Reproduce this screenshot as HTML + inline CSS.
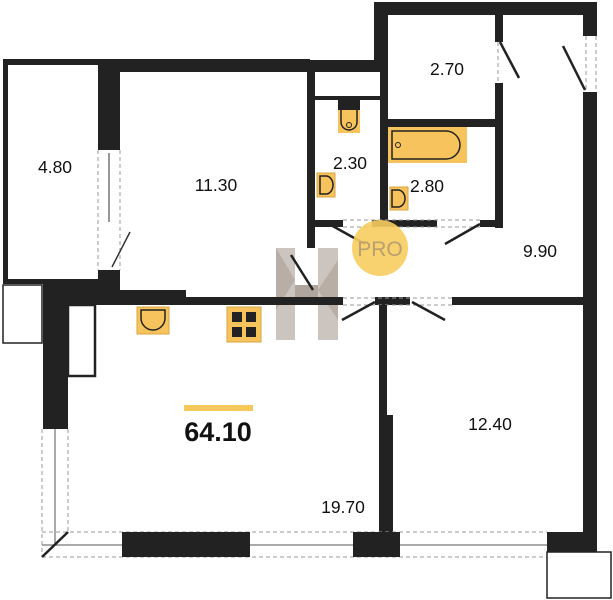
<!DOCTYPE html>
<html><head><meta charset="utf-8"><style>
html,body{margin:0;padding:0;background:#fff;}
svg{display:block;font-family:"Liberation Sans",sans-serif;}
.w{fill:#222;}
.d{stroke:#999;stroke-width:1;stroke-dasharray:4 3;fill:none;}
.l{stroke:#222;stroke-width:2.5;}
.t{font-size:17.5px;fill:#111;}
.y{fill:#f7c35c;stroke:#d9a540;stroke-width:1;}
</style></head><body>
<svg width="613" height="600" viewBox="0 0 613 600">
<!-- watermark -->
<polygon points="276,248 295,248 295,340 276,340" fill="#ccc5bf"/>
<polygon points="318,248 338,248 338,340 318,340" fill="#ccc5bf"/>
<polygon points="295,285 318,285 318,305 295,305" fill="#b0a69d"/>
<polygon points="276,248 295,280 276,310" fill="#b9aea5"/>
<polygon points="338,260 318,290 338,320" fill="#b9aea5"/>

<!-- top-left block -->
<rect class="w" x="3" y="59" width="307" height="6"/>
<rect class="w" x="98" y="59" width="212" height="13"/>
<rect class="w" x="3" y="59" width="5" height="225"/>
<rect class="w" x="98" y="59" width="22" height="91"/>
<rect class="w" x="98" y="270" width="22" height="22"/>
<rect class="w" x="3" y="279" width="95" height="5"/>
<rect class="w" x="43" y="284" width="77" height="8"/>
<rect x="3" y="285" width="39" height="58" fill="none" stroke="#222" stroke-width="1.5"/>
<line class="d" x1="98" y1="150" x2="98" y2="270"/><line class="d" x1="120" y1="150" x2="120" y2="270"/>
<line x1="109" y1="153" x2="109" y2="222" stroke="#333" stroke-width="1"/>
<line x1="112" y1="267" x2="130" y2="232" stroke="#333" stroke-width="1.5"/>
<!-- 11.30 right wall -->
<rect class="w" x="307" y="60" width="8" height="188"/>
<rect class="w" x="300" y="60" width="88" height="12"/>
<rect class="w" x="374" y="2" width="14" height="70"/>
<rect class="w" x="380" y="60" width="8" height="160"/>
<rect class="w" x="374" y="2" width="223" height="13"/>
<rect class="w" x="583" y="2" width="14" height="34"/>
<rect class="w" x="583" y="92" width="14" height="460"/>
<line class="d" x1="586" y1="36" x2="586" y2="92"/><line class="d" x1="596" y1="36" x2="596" y2="92"/>
<line class="l" x1="563" y1="46" x2="585" y2="90"/>
<!-- 2.70 -->
<rect class="w" x="495" y="15" width="8" height="27"/>
<rect class="w" x="495" y="83" width="8" height="145"/>
<rect class="w" x="387" y="119" width="116" height="8"/>
<line class="l" x1="500" y1="42" x2="519" y2="78"/>
<line class="d" x1="498" y1="42" x2="498" y2="83"/>
<!-- 2.30 -->
<rect class="w" x="315" y="96" width="65" height="4"/>
<rect class="w" x="315" y="220" width="28" height="7"/>
<rect class="w" x="372" y="220" width="65" height="7"/>
<rect class="w" x="480" y="220" width="23" height="7"/>
<line class="d" x1="343" y1="220" x2="480" y2="220"/><line class="d" x1="343" y1="227" x2="480" y2="227"/>
<line class="l" x1="329" y1="224" x2="365" y2="244"/>
<line class="l" x1="480" y1="224" x2="445" y2="244"/>
<!-- toilet -->
<rect x="338" y="100" width="22" height="33" fill="#f7c35c"/>
<rect class="w" x="338" y="100" width="22" height="10"/>
<path d="M341,110 v12 a8,8 0 0 0 16,0 v-12" fill="none" stroke="#222" stroke-width="1.5"/>
<circle cx="349" cy="125" r="2.5" fill="none" stroke="#222"/>
<!-- sinks -->
<rect class="y" x="317" y="173" width="18" height="24"/>
<path d="M320,176 h6 a7,9 0 0 1 0,18 h-6 z" fill="none" stroke="#222" stroke-width="1.5"/>
<rect class="y" x="390" y="187" width="18" height="23"/>
<path d="M392,190 h6 a7,8.5 0 0 1 0,17 h-6 z" fill="none" stroke="#222" stroke-width="1.5"/>
<!-- bath -->
<rect x="388" y="127" width="79" height="36" fill="#f7c35c"/>
<path d="M392,131 h54 a14,14 0 0 1 0,28 h-54 z" fill="none" stroke="#222" stroke-width="1.5"/>
<circle cx="398" cy="145" r="2.5" fill="none" stroke="#222"/>
<!-- PRO -->
<circle cx="380" cy="248" r="28" fill="#f7cd5f" opacity="0.9"/>
<text x="380" y="256" text-anchor="middle" font-size="21" fill="#b8a070">PRO</text>
<!-- 9.90 bottom wall / kitchen top wall -->
<rect class="w" x="43" y="290" width="143" height="15"/>
<rect class="w" x="186" y="297" width="157" height="8"/>
<rect class="w" x="375" y="297" width="35" height="8"/>
<rect class="w" x="452" y="297" width="145" height="8"/>
<line class="d" x1="343" y1="298" x2="452" y2="298"/><line class="d" x1="343" y1="305" x2="452" y2="305"/>
<line class="l" x1="375" y1="302" x2="342" y2="320"/>
<line class="l" x1="412" y1="302" x2="445" y2="320"/>
<line class="l" x1="291" y1="255" x2="313" y2="290"/>
<!-- left living wall -->
<rect class="w" x="43" y="290" width="25" height="139"/>
<rect x="68" y="305" width="27" height="71" fill="none" stroke="#222" stroke-width="2.5"/>
<!-- divider -->
<rect class="w" x="379" y="305" width="8" height="110"/>
<rect class="w" x="379" y="415" width="14" height="120"/>
<!-- bottom -->
<line class="d" x1="42" y1="532" x2="547" y2="532"/><line class="d" x1="42" y1="557" x2="547" y2="557"/>
<line x1="42" y1="545" x2="547" y2="545" stroke="#555" stroke-width="1"/>
<line class="d" x1="42" y1="429" x2="42" y2="557"/><line class="d" x1="68" y1="429" x2="68" y2="532"/>
<line x1="55" y1="429" x2="55" y2="545" stroke="#555" stroke-width="1"/>
<line class="l" x1="42" y1="557" x2="68" y2="532"/>
<rect class="w" x="122" y="532" width="128" height="25"/>
<rect class="w" x="353" y="532" width="47" height="25"/>
<rect class="w" x="547" y="532" width="50" height="20"/>
<rect x="547" y="552" width="64" height="46" fill="none" stroke="#222" stroke-width="1.5"/>
<!-- kitchen fixtures -->
<rect class="y" x="137" y="307" width="32" height="27"/>
<path d="M141,310 h24 v8 a12,12 0 0 1 -24,0 z" fill="none" stroke="#222" stroke-width="1.5"/>
<rect class="y" x="227" y="307" width="34" height="35"/>
<rect class="w" x="232" y="312" width="10" height="10"/><rect class="w" x="246" y="312" width="10" height="10"/>
<rect class="w" x="232" y="327" width="10" height="10"/><rect class="w" x="246" y="327" width="10" height="10"/>
<rect x="184" y="405" width="69" height="6" fill="#f5c85a"/>
<!-- labels -->
<text class="t" x="55" y="173" text-anchor="middle">4.80</text>
<text class="t" x="216" y="191" text-anchor="middle">11.30</text>
<text class="t" x="447" y="75" text-anchor="middle">2.70</text>
<text class="t" x="350" y="169" text-anchor="middle">2.30</text>
<text class="t" x="427" y="192" text-anchor="middle">2.80</text>
<text class="t" x="540" y="257" text-anchor="middle">9.90</text>
<text class="t" x="490" y="430" text-anchor="middle">12.40</text>
<text class="t" x="343" y="513" text-anchor="middle">19.70</text>
<text x="218" y="441" text-anchor="middle" font-size="27" font-weight="bold" fill="#111">64.10</text>
</svg>
</body></html>
